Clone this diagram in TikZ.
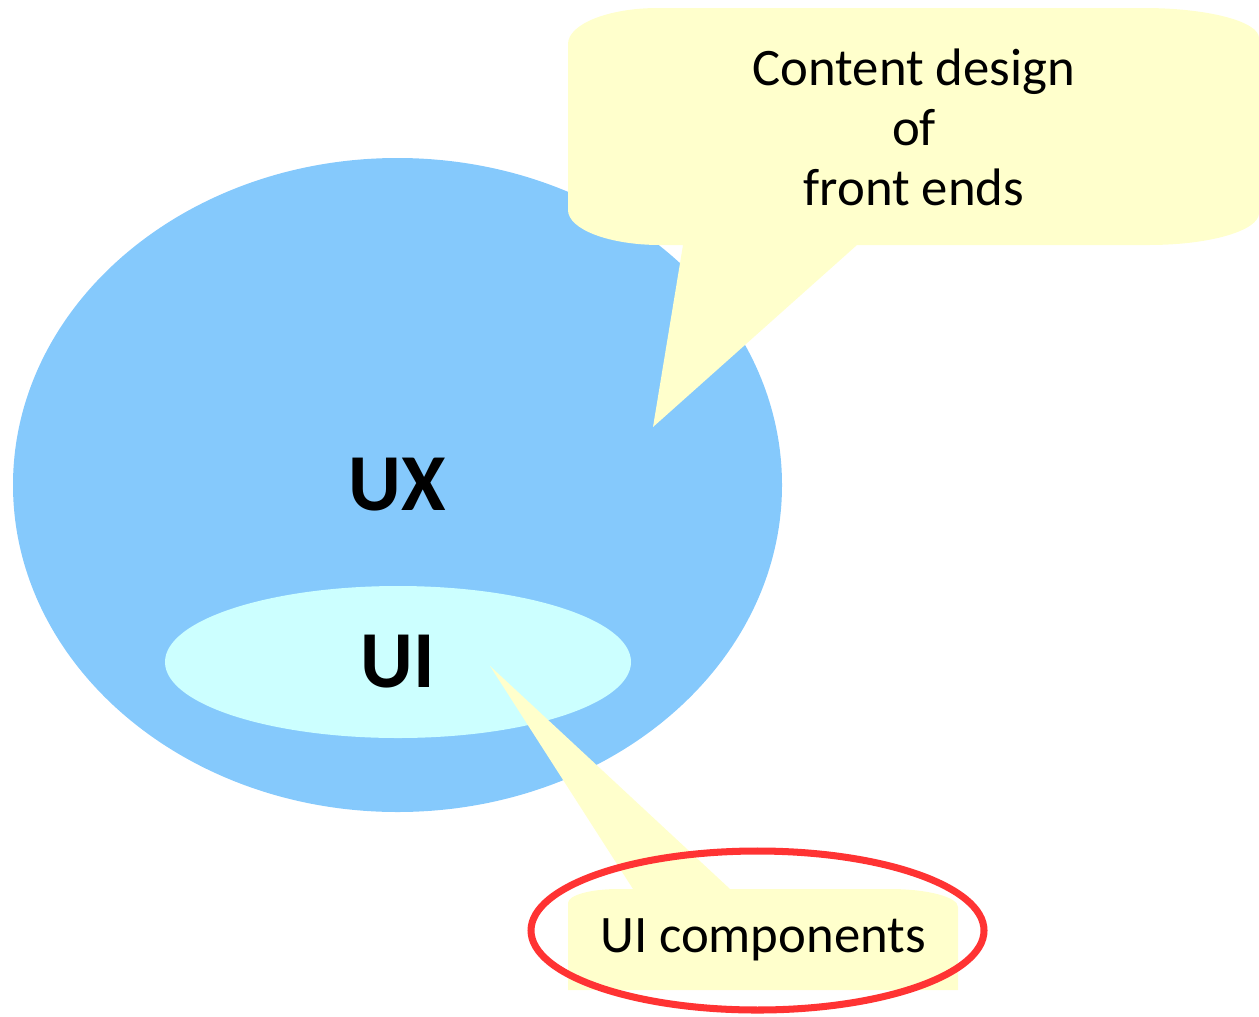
\documentclass[tikz,border=0pt]{standalone}
\usepackage{fontspec}
\setmainfont{Carlito}
\usetikzlibrary{shapes.geometric, positioning}

\definecolor{uxblue}{HTML}{85C9FC}
\definecolor{uicyan}{HTML}{CCFFFF}
\definecolor{noteyellow}{HTML}{FFFFCC}
\definecolor{markred}{HTML}{FF3333}

\begin{document}
\begin{tikzpicture}[
    blob/.style={ellipse, inner sep=0pt, draw=none},
    bigtext/.style={font=\bfseries\fontsize{23}{27}\selectfont},
    notetext/.style={font=\fontsize{15}{17.1}\selectfont, align=center},
]
    \useasboundingbox (0,0) rectangle (12.59,-10.16);

    % UX and UI areas
    \node[blob, fill=uxblue, minimum width=7.69cm, minimum height=6.54cm, bigtext] (ux) at (3.975,-4.85) {UX};
    \node[blob, fill=uicyan, minimum width=4.66cm, minimum height=1.52cm, bigtext] (ui) at (3.98,-6.62) {UI};

    % Callout tips
    \coordinate (contenttip) at (6.53,-4.27);
    \coordinate (comptip) at (4.90,-6.66);

    % Top callout
    \fill[noteyellow] (5.68,-0.44) arc[start angle=180, end angle=90, x radius=0.90, y radius=0.36]
        -- (11.44,-0.08) arc[start angle=90, end angle=0, x radius=1.15, y radius=0.30]
        -- (12.59,-2.13) arc[start angle=0, end angle=-90, x radius=1.10, y radius=0.32]
        -- (8.57,-2.45) -- (contenttip) -- (6.83,-2.45)
        -- (6.60,-2.45) arc[start angle=-90, end angle=-180, x radius=0.92, y radius=0.35] -- cycle;
    \node[notetext] (content) at (9.14,-1.27) {Content design\\of\\front ends};

    % Bottom callout
    \fill[noteyellow] (5.68,-9.90) -- (5.68,-9.03) arc[start angle=180, end angle=90, x radius=0.50, y radius=0.14]
        -- (6.33,-8.89) -- (comptip) -- (7.30,-8.89)
        -- (8.90,-8.89) arc[start angle=90, end angle=0, x radius=0.68, y radius=0.18]
        -- (9.58,-9.90) -- cycle;
    \node[notetext] (components) at (7.63,-9.40) {UI components};

    % Highlight
    \node[ellipse, draw=markred, line width=2pt, minimum width=4.53cm, minimum height=1.59cm] (mark) at (7.575,-9.305) {};
\end{tikzpicture}
\end{document}
